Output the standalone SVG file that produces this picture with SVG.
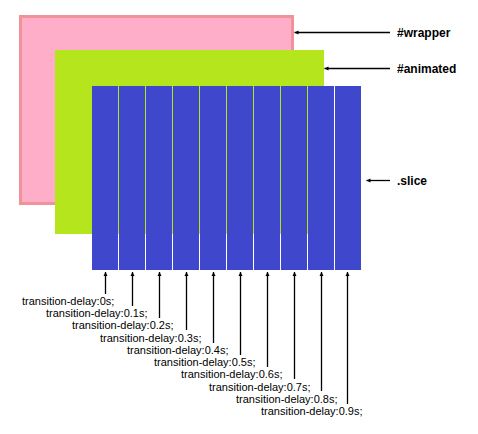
<svg xmlns="http://www.w3.org/2000/svg" width="478" height="434" viewBox="0 0 478 434">
<style>
.lbl{font-family:"Liberation Sans",Arial,sans-serif;font-size:12px;font-weight:bold;fill:#000}
.dl{font-family:"Liberation Sans",Arial,sans-serif;font-size:11px;fill:#000}
.ln{stroke:#000;stroke-width:1.3;fill:none;marker-end:url(#ah)}
.slice{fill:#3F48CC}
</style>
<defs>
<marker id="ah" viewBox="0 0 10 10" refX="10" refY="5" markerWidth="4" markerHeight="4" markerUnits="userSpaceOnUse" orient="auto" overflow="visible">
<path d="M0,0 L10,5 L0,10 z" fill="#000"/>
</marker>
</defs>
<rect width="478" height="434" fill="#fff"/>
<g id="wrapper"><rect x="20.5" y="16.5" width="272" height="187" fill="#FFAEC9" stroke="#F0929A" stroke-width="3"/></g>
<g id="animated"><rect x="55" y="50" width="269" height="184" fill="#B5E61D"/></g>
<g id="slices">
<rect class="slice" x="92" y="86" width="26" height="184"/>
<rect class="slice" x="119" y="86" width="26" height="184"/>
<rect class="slice" x="146" y="86" width="26" height="184"/>
<rect class="slice" x="173" y="86" width="26" height="184"/>
<rect class="slice" x="200" y="86" width="26" height="184"/>
<rect class="slice" x="227" y="86" width="26" height="184"/>
<rect class="slice" x="254" y="86" width="26" height="184"/>
<rect class="slice" x="281" y="86" width="26" height="184"/>
<rect class="slice" x="308" y="86" width="26" height="184"/>
<rect class="slice" x="335" y="86" width="26" height="184"/>
</g>
<g id="connectors">
<line class="ln" x1="390" y1="32.5" x2="294.5" y2="32.5"/>
<line class="ln" x1="390" y1="68.5" x2="324.5" y2="68.5"/>
<line class="ln" x1="390" y1="180.5" x2="366.5" y2="180.5"/>
<line class="ln" x1="105.5" y1="294" x2="105.5" y2="272"/>
<line class="ln" x1="132.5" y1="306" x2="132.5" y2="272"/>
<line class="ln" x1="159.5" y1="318" x2="159.5" y2="272"/>
<line class="ln" x1="186.5" y1="330" x2="186.5" y2="272"/>
<line class="ln" x1="213.5" y1="343" x2="213.5" y2="272"/>
<line class="ln" x1="240.5" y1="355" x2="240.5" y2="272"/>
<line class="ln" x1="267.5" y1="367" x2="267.5" y2="272"/>
<line class="ln" x1="294.5" y1="379" x2="294.5" y2="272"/>
<line class="ln" x1="321.5" y1="391" x2="321.5" y2="272"/>
<line class="ln" x1="347.5" y1="404" x2="347.5" y2="272"/>
</g>
<g id="labels">
<text class="lbl" x="397" y="36.5">#wrapper</text>
<text class="lbl" x="397" y="72.5">#animated</text>
<text class="lbl" x="397" y="184.5">.slice</text>
<text class="dl" x="22" y="305">transition-delay:0s;</text>
<text class="dl" x="46" y="317">transition-delay:0.1s;</text>
<text class="dl" x="72" y="329">transition-delay:0.2s;</text>
<text class="dl" x="100" y="341.5">transition-delay:0.3s;</text>
<text class="dl" x="127" y="353.5">transition-delay:0.4s;</text>
<text class="dl" x="154" y="366">transition-delay:0.5s;</text>
<text class="dl" x="181" y="378">transition-delay:0.6s;</text>
<text class="dl" x="209" y="390.5">transition-delay:0.7s;</text>
<text class="dl" x="236" y="402.5">transition-delay:0.8s;</text>
<text class="dl" x="261" y="414.5">transition-delay:0.9s;</text>
</g>
</svg>
